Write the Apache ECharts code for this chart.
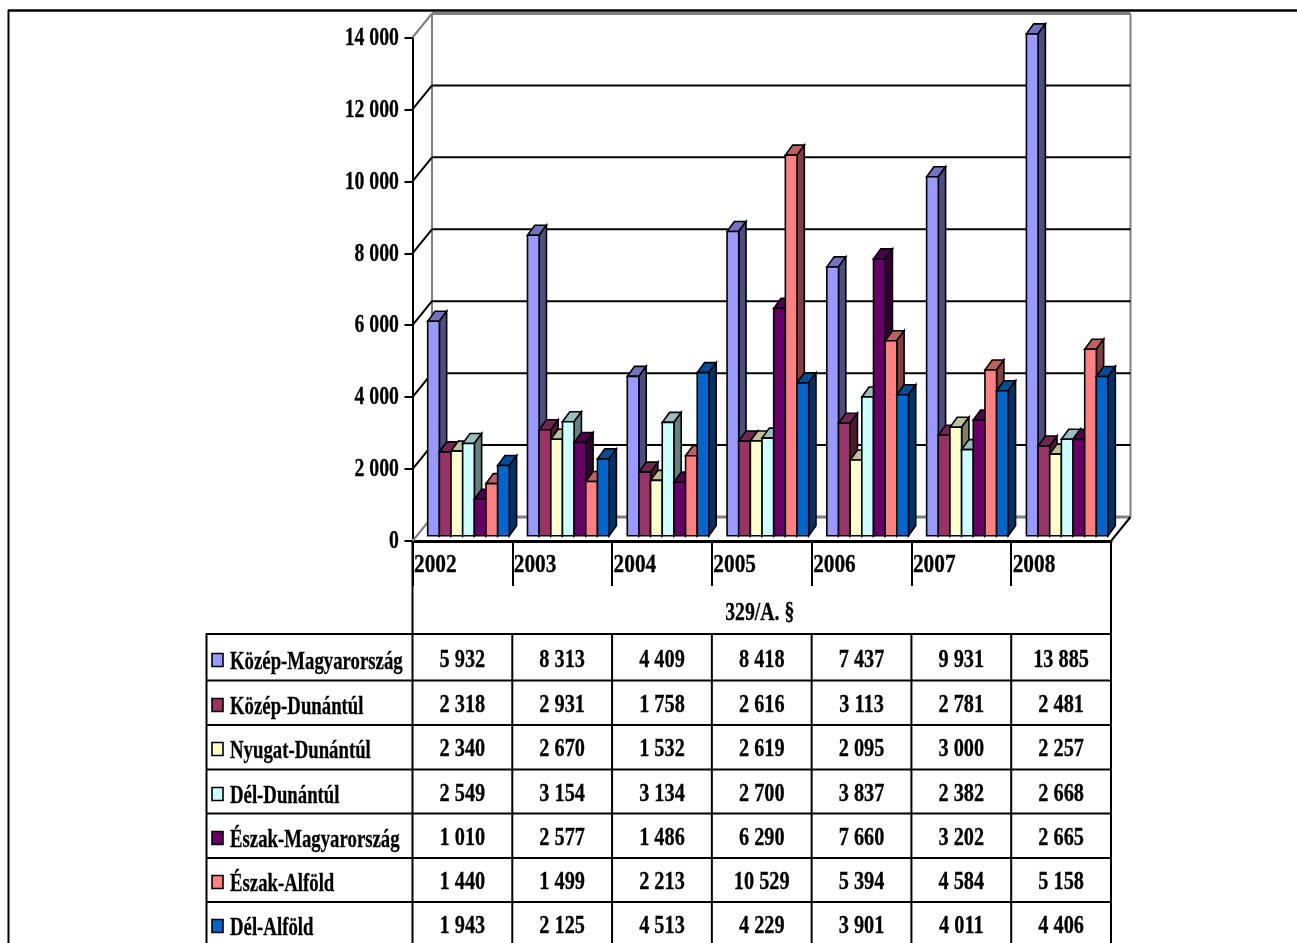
<!DOCTYPE html>
<html><head><meta charset="utf-8">
<style>html,body{margin:0;padding:0;background:#fff}#c{width:1297px;height:943px}</style>
<script src="https://cdn.jsdelivr.net/npm/echarts@6/dist/echarts.min.js"></script>
</head><body><div id="c"></div>
<script>
const years = ['2002','2003','2004','2005','2006','2007','2008'];
const regions = ['Közép-Magyarország','Közép-Dunántúl','Nyugat-Dunántúl','Dél-Dunántúl','Észak-Magyarország','Észak-Alföld','Dél-Alföld'];
const kozepMagyarorszag = [5932,8313,4409,8418,7437,9931,13885];
const kozepDunantul = [2318,2931,1758,2616,3113,2781,2481];
const nyugatDunantul = [2340,2670,1532,2619,2095,3000,2257];
const delDunantul = [2549,3154,3134,2700,3837,2382,2668];
const eszakMagyarorszag = [1010,2577,1486,6290,7660,3202,2665];
const eszakAlfold = [1440,1499,2213,10529,5394,4584,5158];
const delAlfold = [1943,2125,4513,4229,3901,4011,4406];
const seriesValues = [kozepMagyarorszag,kozepDunantul,nyugatDunantul,delDunantul,eszakMagyarorszag,eszakAlfold,delAlfold];
const yTicks = [0,2000,4000,6000,8000,10000,12000,14000];
const tableCaption = '329/A. §';
const colors = ['#9999FF','#993366','#FFFFCC','#CCFFFF','#660066','#FF8080','#0066CC'];

const FONT = 'bold 26px "Liberation Serif","Times New Roman",serif';
const fmt = v => String(v).replace(/\B(?=(\d{3})+$)/g,' ');
function shade(hex,k){const n=parseInt(hex.slice(1),16);
  const c=[n>>16&255,n>>8&255,n&255].map(x=>Math.round(x*k));
  return 'rgb('+c.join(',')+')';}
function label(text,x,y,align,sx){return {type:'text',x,y,scaleX:sx||0.76,silent:true,z2:50,
  style:{text,font:FONT,fill:'#000',stroke:'#000',lineWidth:0.3,align:align||'left',verticalAlign:'middle'}};}

// 3-D projection, px
const WALL_DX=19.5, WALL_DY=-24;
const BAR_INSET_X=15.2, BAR_LIFT=5.3, BAR_W=11.66, BAR_DX=7.3, BAR_DY=-10, BAR_SCALE=1.005;

const chart = echarts.init(document.getElementById('c'),null,{renderer:'canvas'});
const GL=412.5,GT=37.5,GR=1111,GB=541;

function lineEl(x1,y1,x2,y2,stroke,lw){return {type:'line',shape:{x1,y1,x2,y2},silent:true,
  style:{stroke,lineWidth:lw||2}};}

const barSeries = regions.map((name,si)=>({
  name,type:'custom',coordinateSystem:'cartesian2d',z:10+si,
  data:seriesValues[si].map((v,i)=>[i,v]),
  encode:{x:0,y:1},
  renderItem(params,api){
    const cat=api.value(0),val=api.value(1);
    const cw=api.size([1,0])[0];
    const base=api.coord([cat,0]);
    const left=base[0]-cw/2+BAR_INSET_X+si*BAR_W;
    const y0=base[1]-BAR_LIFT, y1=y0-(base[1]-api.coord([cat,val])[1])*BAR_SCALE;
    const r=left+BAR_W, dx=BAR_DX, dy=BAR_DY, c=colors[si];
    const st={stroke:'#000',lineWidth:1.6,lineJoin:'miter'};
    return {type:'group',children:[
      {type:'polygon',shape:{points:[[left,y1],[r,y1],[r+dx,y1+dy],[left+dx,y1+dy]]},style:{fill:shade(c,.75),...st}},
      {type:'polygon',shape:{points:[[r,y1],[r+dx,y1+dy],[r+dx,y0+dy],[r,y0]]},style:{fill:shade(c,.5),...st}},
      {type:'rect',shape:{x:left,y:y1,width:BAR_W,height:y0-y1},style:{fill:c,...st}}
    ]};
  }
}));

const wallSeries = {
  type:'custom',coordinateSystem:'cartesian2d',z:2,silent:true,
  data:yTicks.map(v=>[years[0],v]),encode:{x:0,y:1},
  renderItem(params,api){
    const v=api.value(1),p=api.coord([0,v]);
    const x0=GL,y=p[1],gray=(v===0||v===14000);
    const col=gray?'#808080':'#000';
    const kids=[
      lineEl(x0,y,x0+WALL_DX,y+WALL_DY,col,2),
      lineEl(x0+WALL_DX,y+WALL_DY,GR+WALL_DX,y+WALL_DY,col,gray?3:2)
    ];
    if(v===0){
      kids.push(lineEl(x0+WALL_DX,y+WALL_DY,x0+WALL_DX,GT+WALL_DY,'#808080',2));
      kids.push(lineEl(GR+WALL_DX,y+WALL_DY,GR+WALL_DX,GT+WALL_DY,'#808080',2));
      kids.push(lineEl(GR,y,GR+WALL_DX,y+WALL_DY,'#000',2));
    }
    return {type:'group',children:kids};
  }
};

const tickLabelSeries = {
  type:'custom',coordinateSystem:'cartesian2d',z:20,silent:true,
  data:yTicks.map(v=>[0,v]),encode:{x:0,y:1},
  renderItem(params,api){const v=api.value(1);
    return label(fmt(v),399,api.coord([0,v])[1]+0.5,'right');}
};
const yearLabelSeries = {
  type:'custom',coordinateSystem:'cartesian2d',z:20,silent:true,
  data:years.map((y,i)=>[i,0]),encode:{x:0,y:1},
  renderItem(params,api){const i=api.value(0);const cw=api.size([1,0])[0];
    return label(years[i],api.coord([i,0])[0]-cw/2+1.5,565.5,'left',0.82);}
};

// table
const ROW_LINES=[634,680.5,725,769.5,813.5,858,902];
const ROW_TEXT_Y=[660,705,749,794,838,882,926];
const LEG_X=206.5, TEXT_X=230, SW_X=212;
const tableEls=[];
function addTable(){
  const px=i=>chart.convertToPixel({xAxisIndex:0},years[i]);
  const cw=(GR-GL)/years.length;
  ROW_LINES.forEach(y=>tableEls.push({type:'line',shape:{x1:LEG_X,y1:y,x2:GR,y2:y},style:{stroke:'#000',lineWidth:2},silent:true}));
  tableEls.push({type:'line',shape:{x1:LEG_X,y1:633,x2:LEG_X,y2:943},style:{stroke:'#000',lineWidth:2},silent:true});
  for(let i=0;i<=years.length;i++){
    const x=GL+i*cw;
    tableEls.push({type:'line',shape:{x1:x,y1:(i===0||i===years.length)?541:634,x2:x,y2:943},style:{stroke:'#000',lineWidth:2},silent:true});
  }
  tableEls.push(label(tableCaption,(GL+GR)/2-2,613.5,'center'));
  regions.forEach((r,si)=>{
    const y=ROW_TEXT_Y[si];
    tableEls.push({type:'rect',shape:{x:SW_X,y:y-6.5,width:11,height:13},style:{fill:colors[si],stroke:'#000',lineWidth:1.6},silent:true});
    tableEls.push(label(r,TEXT_X,y+2.5,'left',0.722));
    seriesValues[si].forEach((v,i)=>tableEls.push(label(fmt(v),px(i),y,'center',0.78)));
  });
  tableEls.push({type:'line',shape:{x1:8,y1:10.5,x2:1297,y2:10.5},style:{stroke:'#000',lineWidth:2.5},silent:true});
  tableEls.push({type:'line',shape:{x1:8.5,y1:10,x2:8.5,y2:943},style:{stroke:'#000',lineWidth:2},silent:true});
}

chart.setOption({
  animation:false,backgroundColor:'#fff',
  grid:{left:GL,top:GT,right:1297-GR,bottom:943-GB,containLabel:false},
  xAxis:{type:'category',data:years,boundaryGap:true,
    axisLine:{lineStyle:{color:'#000',width:3}},
    axisTick:{show:true,length:45,alignWithLabel:false,lineStyle:{color:'#000',width:2}},
    axisLabel:{show:false},splitLine:{show:false}},
  yAxis:{type:'value',min:0,max:14000,interval:2000,
    axisLine:{show:true,lineStyle:{color:'#000',width:2}},
    axisTick:{show:true,length:8,lineStyle:{color:'#000',width:2}},
    axisLabel:{show:false},splitLine:{show:false}},
  tooltip:{show:false},legend:{show:false},
  series:[wallSeries,...barSeries,tickLabelSeries,yearLabelSeries]
});
addTable();
chart.setOption({graphic:{elements:tableEls}});
</script></body></html>
